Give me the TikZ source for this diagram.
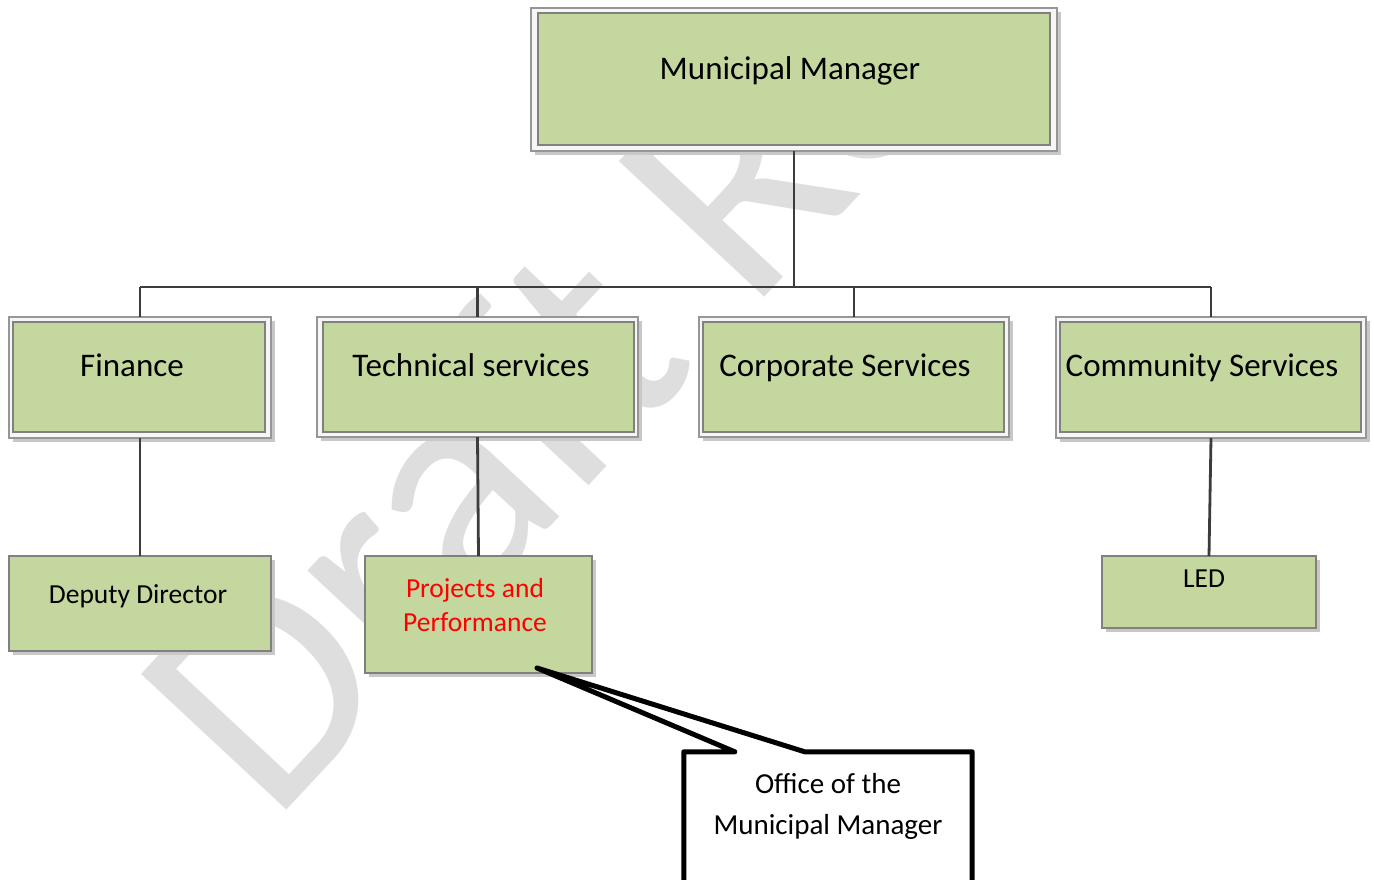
\documentclass[tikz,border=0pt]{standalone}
\usepackage{fontspec}
\setmainfont{Carlito}
\usetikzlibrary{calc,shadows}

\definecolor{boxgreen}{RGB}{196,215,158}
\definecolor{boxedge}{RGB}{128,128,128}
\definecolor{frameedge}{RGB}{150,150,150}
\definecolor{framefill}{RGB}{246,246,246}
\definecolor{shade}{RGB}{200,200,200}
\definecolor{linkgray}{RGB}{60,60,60}
\definecolor{wmgray}{RGB}{222,222,222}
\definecolor{redtext}{RGB}{255,0,0}

\tikzset{
  boxshadow/.style={drop shadow={shadow xshift=4pt, shadow yshift=-4pt, fill=shade, opacity=1}},
  frame/.style={rectangle, draw=frameedge, fill=framefill, line width=1.3pt,
                inner sep=0pt, outer sep=0pt, boxshadow},
  leaf/.style={rectangle, draw=boxedge, fill=boxgreen, line width=1.3pt,
               inner sep=0pt, outer sep=0pt},
  leafshadow/.style={leaf, boxshadow},
  bigtext/.style={font=\fontsize{33}{40}\selectfont, inner sep=0pt, anchor=base},
  smalltext/.style={font=\fontsize{27.5}{33}\selectfont, inner sep=0pt, anchor=base},
  calltext/.style={font=\fontsize{29}{35}\selectfont, inner sep=0pt, anchor=base},
  link/.style={draw=linkgray, line width=2.8pt},
  callout/.style={draw=black, fill=white, line width=5pt, line join=round},
  wm/.style={text=wmgray, font=\fontsize{310}{310}\selectfont, inner sep=0pt}
}

\begin{document}
\begin{tikzpicture}[x=1pt,y=-1pt]
  \useasboundingbox (0,0) rectangle (1374,879);
  \clip (0,0) rectangle (1374,879);

  % watermark
  \node[wm, rotate=47, anchor=base west] (wmark) at (272,826) {Draft Re};

  % top level
  \node[frame, minimum width=526, minimum height=143] (mmF) at (794,79.5) {};
  \node[leaf, minimum width=512, minimum height=132] (mm) at (794,79) {};
  \node[bigtext] (mmT) at (790,79) {Municipal Manager};

  % departments
  \node[frame, minimum width=262, minimum height=121] (finF) at (140,377.5) {};
  \node[leaf, minimum width=252, minimum height=110] (fin) at (139,377) {};
  \node[bigtext] (finT) at (132,376) {Finance};

  \node[frame, minimum width=321, minimum height=120] (tecF) at (477.5,377) {};
  \node[leaf, minimum width=311, minimum height=110] (tec) at (478.5,377) {};
  \node[bigtext] (tecT) at (471,376) {Technical services};

  \node[frame, minimum width=310, minimum height=120] (corF) at (854,377) {};
  \node[leaf, minimum width=301, minimum height=110] (cor) at (853.5,377) {};
  \node[bigtext] (corT) at (845,376) {Corporate Services};

  \node[frame, minimum width=310, minimum height=121] (comF) at (1211,377.5) {};
  \node[leaf, minimum width=301, minimum height=110] (com) at (1210.5,377) {};
  \node[bigtext] (comT) at (1202,376) {Community Services};

  % sub units
  \node[leafshadow, minimum width=262, minimum height=95] (dep) at (140,603.5) {};
  \node[smalltext] (depT) at (138,603) {Deputy Director};

  \node[leafshadow, minimum width=227, minimum height=117] (proj) at (478.5,614.5) {};
  \node[smalltext, text=redtext] (projT1) at (475,597) {Projects and};
  \node[smalltext, text=redtext] (projT2) at (475,631) {Performance};

  \node[leafshadow, minimum width=214, minimum height=72] (led) at (1209,592) {};
  \node[smalltext] (ledT) at (1204,587) {LED};

  % reporting lines
  \coordinate (bus) at (0,287);
  \draw[link] (mmF.south) -- (mmF.south |- bus);
  \draw[link] (finF.north |- bus) -- (comF.north |- bus);
  \draw[link] (finF.north |- bus) -- (finF.north);
  \draw[link] (tecF.north |- bus) -- (tecF.north);
  \draw[link] (corF.north |- bus) -- (corF.north);
  \draw[link] (comF.north |- bus) -- (comF.north);
  \draw[link] (finF.south) -- (dep.north);
  \draw[link] (tecF.south) -- (proj.north);
  \draw[link] (comF.south) -- (led.north);

  % callout
  \node[rectangle, minimum width=288, minimum height=150, inner sep=0pt] (office) at (828,827) {};
  \coordinate (tip) at (537,668);
  \draw[callout] ($(office.north west)+(51,0)$) -- (office.north west) -- (office.south west)
     -- (office.south east) -- (office.north east) -- ($(office.north west)+(121,0)$)
     -- (tip) -- cycle;
  \node[calltext] (officeT1) at (828,793) {Office of the};
  \node[calltext] (officeT2) at (828,834) {Municipal Manager};
\end{tikzpicture}
\end{document}
